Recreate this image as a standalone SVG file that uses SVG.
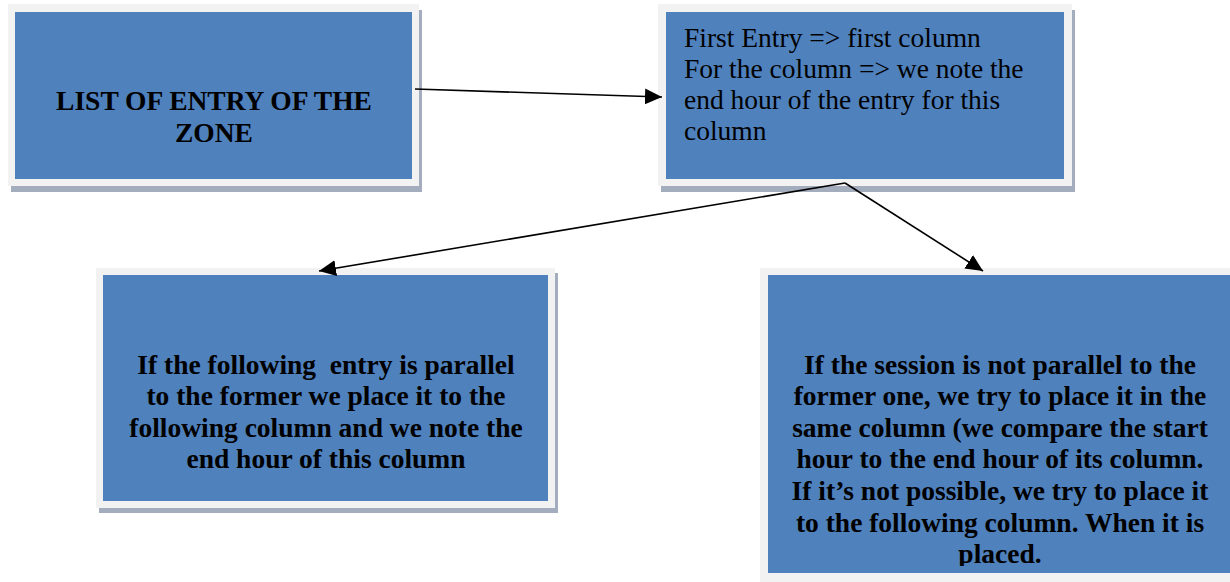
<svg xmlns="http://www.w3.org/2000/svg" width="1230" height="582" viewBox="0 0 1230 582">
<style>
.shadow{fill:#a3adbe}
.frame{fill:#f2f2f2}
.box{fill:#4f81bd}
.t{font-family:"Liberation Serif","Times New Roman",serif;font-size:27.5px;fill:#000;white-space:pre}
.b{font-weight:bold;text-anchor:middle}
.conn{stroke:#000;stroke-width:1.6;fill:none}
</style>
<defs>
<marker id="arr" markerUnits="userSpaceOnUse" markerWidth="18" markerHeight="16" viewBox="0 0 18 16" refX="17" refY="8" orient="auto">
<path d="M0,0 L17,8 L0,16 Z" fill="#000"/>
</marker>
<clipPath id="clip4"><rect x="760" y="268" width="470" height="298"/></clipPath>
</defs>
<rect width="1230" height="582" fill="#fff"/>
<g id="node-list">
<rect class="shadow" x="11" y="10" width="411" height="182"/>
<rect class="frame" x="8" y="4" width="411" height="182"/>
<rect class="box" x="15" y="12" width="397" height="167"/>
<text class="t b" x="214" y="110">LIST OF ENTRY OF THE</text>
<text class="t b" x="214" y="142">ZONE</text>
</g>
<g id="node-first">
<rect class="shadow" x="661" y="10" width="414" height="182"/>
<rect class="frame" x="658" y="4" width="414" height="182"/>
<rect class="box" x="666" y="12" width="398" height="167"/>
<text class="t" x="684" y="47">First Entry =&gt; first column</text>
<text class="t" x="684" y="78">For the column =&gt; we note the</text>
<text class="t" x="684" y="109">end hour of the entry for this</text>
<text class="t" x="684" y="140">column</text>
</g>
<g id="node-parallel">
<rect class="shadow" x="99" y="273" width="459" height="240"/>
<rect class="frame" x="96" y="268" width="459" height="240"/>
<rect class="box" x="103" y="275" width="445" height="226"/>
<text class="t b" x="326" y="374">If the following  entry is parallel</text>
<text class="t b" x="326" y="405">to the former we place it to the</text>
<text class="t b" x="326" y="437">following column and we note the</text>
<text class="t b" x="326" y="468">end hour of this column</text>
</g>
<g id="node-notparallel">
<rect class="frame" x="760" y="268" width="480" height="320"/>
<rect class="box" x="768" y="275" width="470" height="298"/>
<g clip-path="url(#clip4)">
<text class="t b" x="1000" y="374">If the session is not parallel to the</text>
<text class="t b" x="1000" y="405">former one, we try to place it in the</text>
<text class="t b" x="1000" y="437">same column (we compare the start</text>
<text class="t b" x="1000" y="468">hour to the end hour of its column.</text>
<text class="t b" x="1000" y="500">If it’s not possible, we try to place it</text>
<text class="t b" x="1000" y="532">to the following column. When it is</text>
<text class="t b" x="1000" y="563">placed.</text>
</g>
</g>
<g id="connectors">
<line class="conn" x1="415" y1="89" x2="662" y2="97" marker-end="url(#arr)"/>
<line class="conn" x1="845" y1="183" x2="319" y2="271" marker-end="url(#arr)"/>
<line class="conn" x1="845" y1="183" x2="983" y2="271" marker-end="url(#arr)"/>
</g>
</svg>
